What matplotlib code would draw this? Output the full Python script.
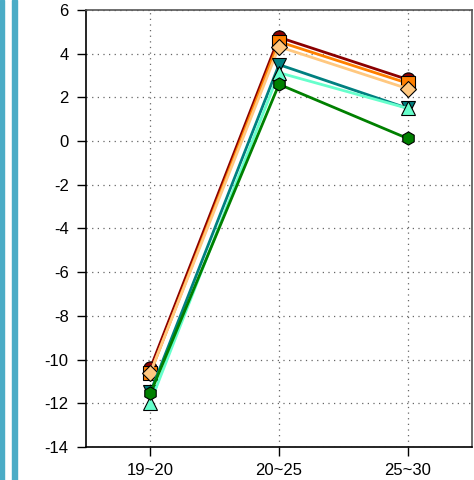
import matplotlib.pyplot as plt
import matplotlib.patches as mpatches

plt.rcParams['font.family'] = ['Liberation Sans', 'DejaVu Sans']
plt.rcParams['axes.unicode_minus'] = False

categories = ['19~20', '20~25', '25~30']
s_darkred = [-10.4, 4.75, 2.82]
s_orange = [-10.62, 4.55, 2.65]
s_lightorange = [-10.6, 4.32, 2.4]
s_teal = [-11.5, 3.5, 1.5]
s_aqua = [-11.97, 3.13, 1.5]
s_green = [-11.55, 2.6, 0.12]

series = [
    (s_darkred, '#8B0000', 'o'),
    (s_orange, '#FF8000', 's'),
    (s_lightorange, '#FFC880', 'D'),
    (s_teal, '#008080', 'v'),
    (s_aqua, '#66FFCC', '^'),
    (s_green, '#008000', 'h'),
]

fig = plt.figure(figsize=(4.74, 4.80), dpi=100)

# blue bars on the left edge
for x0, w in [(0, 4), (12, 5)]:
    fig.patches.append(mpatches.Rectangle((x0 / 474, 0), w / 474, 1,
                                          transform=fig.transFigure,
                                          color='#4BACC6', zorder=0))

ax = fig.add_axes([86 / 474, 1 - 447 / 480, 386 / 474, 437 / 480])
x = list(range(len(categories)))
for vals, col, mk in series:
    ms = 9.5 if mk != 'D' else 8.5
    ax.plot(x, vals, color=col, lw=2, marker=mk, markersize=ms,
            markeredgecolor='black', markeredgewidth=0.8)

ax.set_xlim(-0.5, 2.5)
ax.set_ylim(-14, 6)
ax.set_yticks(range(-14, 7, 2))
ax.set_xticks(x)
ax.set_xticklabels(categories)
ax.tick_params(axis='both', labelsize=12, length=6.5, width=1, direction='out')
ax.tick_params(axis='x', pad=5)
ax.tick_params(axis='y', pad=6)
ax.tick_params(top=False, right=False)
ax.grid(True, linestyle=(0, (1, 3.5)), color='#666666', lw=0.9)
ax.spines['left'].set_color('black')
ax.spines['bottom'].set_color('black')
ax.spines['top'].set_color('#555555')
ax.spines['right'].set_color('#555555')
for s in ax.spines.values():
    s.set_linewidth(1.2)

fig.savefig('out.png', dpi=100)
